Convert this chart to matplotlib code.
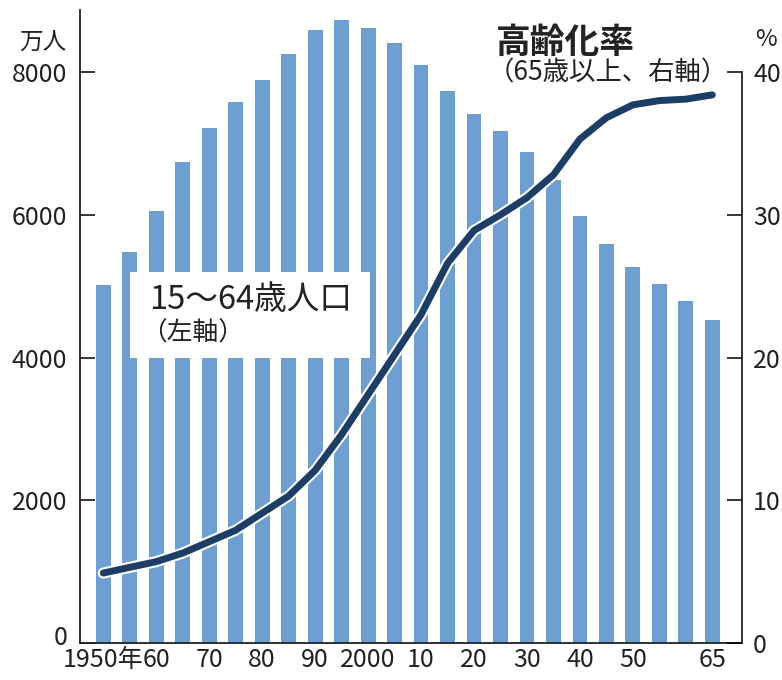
import matplotlib
matplotlib.use("Agg")
import matplotlib.pyplot as plt
import matplotlib.patheffects as pe
from matplotlib.patches import Rectangle
from matplotlib.transforms import ScaledTranslation

plt.rcParams['font.family'] = ['Noto Sans CJK JP', 'DejaVu Sans']

# données : population 15-64 ans (万人) et taux de vieillissement (%)
annees = [1950, 1955, 1960, 1965, 1970, 1975, 1980, 1985, 1990, 1995, 2000, 2005,
          2010, 2015, 2020, 2025, 2030, 2035, 2040, 2045, 2050, 2055, 2060, 2065]
pop_15_64 = [5017, 5473, 6047, 6744, 7212, 7581, 7883, 8251, 8590, 8726, 8622, 8409,
             8103, 7728, 7406, 7170, 6875, 6494, 5978, 5584, 5275, 5028, 4793, 4529]
taux_65 = [4.9, 5.3, 5.7, 6.3, 7.1, 7.9, 9.1, 10.3, 12.1, 14.6, 17.4, 20.2,
           23.0, 26.6, 28.9, 30.0, 31.2, 32.8, 35.3, 36.8, 37.7, 38.0, 38.1, 38.4]
ticks_x = [1960, 1970, 1980, 1990, 2000, 2010, 2020, 2030, 2040, 2050, 2065]
labels_x = ["60", "70", "80", "90", "2000", "10", "20", "30", "40", "50", "65"]
ticks_gauche = [0, 2000, 4000, 6000, 8000]
ticks_droite = [0, 10, 20, 30, 40]

couleur_barre = "#6e9fd2"
couleur_ligne = "#1c3d66"
couleur_texte = "#222222"

fig = plt.figure(figsize=(7.82, 6.8), dpi=100)
ax = fig.add_axes([80/782, 37/680, 662/782, 633/680])
ax2 = ax.twinx()

ax.bar(annees, pop_15_64, width=2.8, color=couleur_barre, zorder=1)
ax.set_xlim(1945.6, 2070.6)
ax.set_ylim(0, 8869)
ax2.set_ylim(0, 8869/200)

# cadre blanc de la légende "15~64歳人口"
ax.add_patch(Rectangle((1955.0, 3992), 45.3, 1204, facecolor="white", edgecolor="none", zorder=2))
ax.text(1958.6, 4804, "15〜64歳人口", fontsize=23.5, color=couleur_texte, va="center", ha="left", zorder=3)
ax.text(1957.2, 4342, "（左軸）", fontsize=18.5, color=couleur_texte, va="center", ha="left", zorder=3)

# courbe du taux de vieillissement avec contour blanc
ax2.plot(annees, taux_65, color=couleur_ligne, lw=5, solid_capstyle="round", zorder=5,
         path_effects=[pe.Stroke(linewidth=8, foreground="white"), pe.Normal()])

ax2.text(2024.2, 42.1, "高齢化率", fontsize=25, fontweight="bold", color=couleur_texte, va="center", ha="left")
ax2.text(2022.6, 39.9, "（65歳以上、右軸）", fontsize=19, color=couleur_texte, va="center", ha="left")

# axes
ax.spines["top"].set_visible(False)
ax2.spines["top"].set_visible(False)
ax2.spines["left"].set_visible(False)
ax2.spines["bottom"].set_visible(False)
ax.spines["right"].set_visible(False)
ax2.spines["right"].set_bounds(0, 40)
for sp in [ax.spines["left"], ax.spines["bottom"], ax2.spines["right"]]:
    sp.set_linewidth(1.3)
    sp.set_color("#222222")

ax.set_yticks(ticks_gauche)
ax.tick_params(axis="y", direction="in", length=11, width=1.1, pad=9, labelsize=18, labelcolor=couleur_texte)
ax2.set_yticks(ticks_droite)
ax2.tick_params(axis="y", direction="in", length=11, width=1.1, pad=8, labelsize=18, labelcolor=couleur_texte)

ax.set_xticks(ticks_x)
ax.set_xticklabels(labels_x)
ax.tick_params(axis="x", length=0, pad=3, labelsize=18, labelcolor=couleur_texte)

# le "0" de gauche est remonté un peu comme sur l'original
lab0 = ax.get_yticklabels()[0]
lab0.set_transform(lab0.get_transform() + ScaledTranslation(0, 6/72, fig.dpi_scale_trans))

# "1950年" collé devant "60"
ax.annotate("1950年", xy=(1960, 0), xycoords=("data", "axes fraction"),
            xytext=(-9.5, -3), textcoords="offset points", ha="right", va="top",
            fontsize=18, color=couleur_texte)

fig.text(66/782, 1-42/680, "万人", fontsize=17, color=couleur_texte, ha="right", va="center")
fig.text(766/782, 1-40/680, "%", fontsize=17, color=couleur_texte, ha="center", va="center")

fig.savefig("out.png", dpi=100)
